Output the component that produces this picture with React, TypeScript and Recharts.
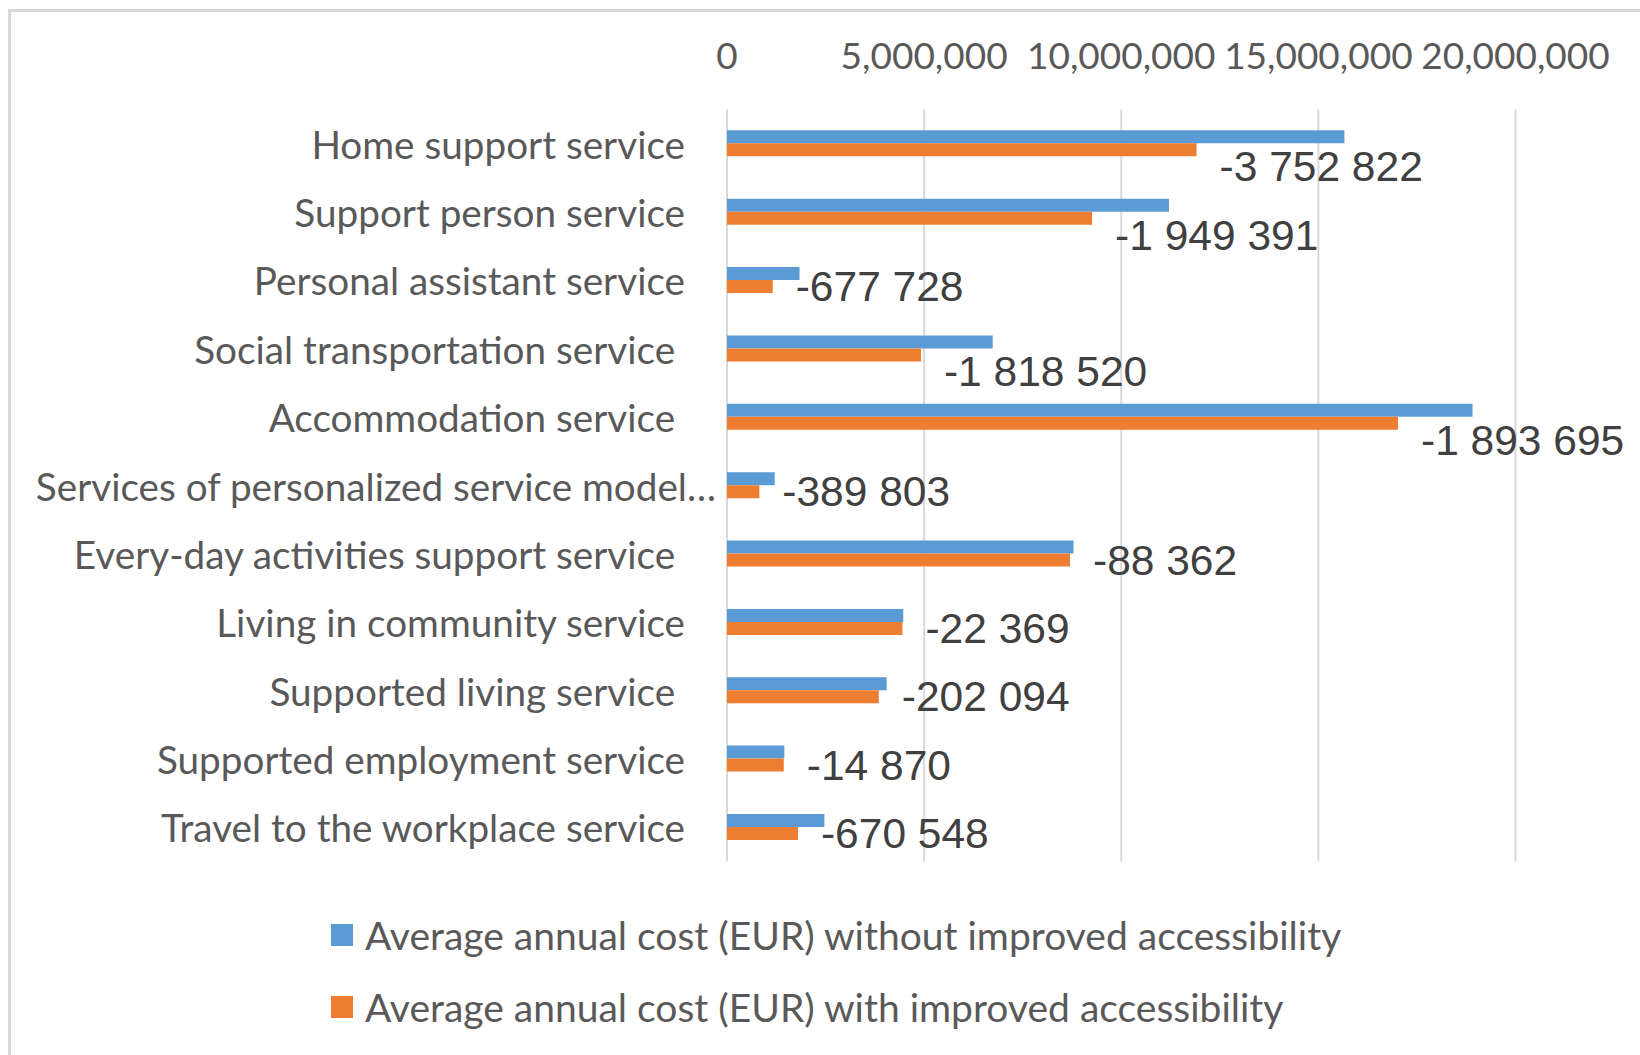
import { Bar, BarChart, CartesianGrid, LabelList, XAxis, YAxis } from 'recharts';

// category labels as they appear (some carry a trailing space in the source sheet)
const services = [
  'Home support service',
  'Support person service',
  'Personal assistant service',
  'Social transportation service ',
  'Accommodation service ',
  'Services of personalized service model…',
  'Every-day activities support service ',
  'Living in community service',
  'Supported living service ',
  'Supported employment service',
  'Travel to the workplace service',
];

const costWithout = [15660000, 11210000, 1840000, 6740000, 18910000, 1210000, 8790000, 4470000, 4050000, 1455000, 2470000];
const costWith = [11910000, 9260000, 1160000, 4920000, 17020000, 820000, 8700000, 4450000, 3850000, 1440000, 1800000];
const difference = [-3752822, -1949391, -677728, -1818520, -1893695, -389803, -88362, -22369, -202094, -14870, -670548];

const axisTicks = [0, 5000000, 10000000, 15000000, 20000000];

const seriesNames = [
  'Average annual cost (EUR) without improved accessibility',
  'Average annual cost (EUR) with improved accessibility',
];

const BLUE = '#5b9bd5';
const ORANGE = '#ed7d31';
const AXIS_TEXT = '#595959';
const LABEL_FONT = 'Lato, Calibri, "Open Sans", sans-serif';

const data = services.map((service, i) => ({
  service,
  without: costWithout[i],
  with: costWith[i],
  difference: difference[i],
}));

function spaced(n: number) {
  const digits = String(Math.abs(n)).replace(/\B(?=(\d{3})+(?!\d))/g, ' ');
  return `${n < 0 ? '-' : ''}${digits}`;
}

function ValueTick(props: any) {
  const { x, y, payload } = props;
  return (
    <text
      x={x}
      y={y - 55}
      textAnchor="middle"
      dominantBaseline="central"
      fill={AXIS_TEXT}
      fontFamily={LABEL_FONT}
      fontSize={37}
    >
      {Number(payload.value).toLocaleString('en-US')}
    </text>
  );
}

function CategoryTick(props: any) {
  const { x, y, payload } = props;
  const label: string = payload.value;
  // Excel lets a truncated label run right up to the axis
  const right = label.endsWith('…') ? x - 11 : x - 42;
  return (
    <text
      x={right}
      y={y}
      textAnchor="end"
      dominantBaseline="central"
      fill={AXIS_TEXT}
      fontFamily={LABEL_FONT}
      fontSize={38.7}
      style={{ whiteSpace: 'pre' }}
    >
      {label}
    </text>
  );
}

function DifferenceLabel(props: any) {
  const box = props.viewBox && props.viewBox.width !== undefined ? props.viewBox : props;
  const { x, y, width, height } = box;
  let i = props.index;
  if (i === undefined) i = difference.indexOf(props.value);
  const end = x + width;
  const blueEnd = x + (width * costWithout[i]) / costWith[i];
  const start = end + 23;
  // push the label below when the longer blue bar would run through it
  const shift = blueEnd - start > 10 ? 17 : 0;
  return (
    <text
      x={start}
      y={y + height / 2 + shift}
      dominantBaseline="central"
      fill="#404040"
      fontFamily='"Liberation Sans", Arial, sans-serif'
      fontSize={42.5}
    >
      {spaced(difference[i])}
    </text>
  );
}

export default function App() {
  return (
    <div
      style={{
        position: 'fixed',
        left: 0,
        top: 0,
        width: 1640,
        height: 1055,
        background: '#fff',
        overflow: 'hidden',
      }}
    >
      <div
        style={{
          position: 'absolute',
          left: 8,
          top: 9,
          width: 2000,
          height: 2000,
          border: '3px solid #d9d9d9',
        }}
      />
      <div style={{ position: 'absolute', left: 0, top: 0 }}>
        <BarChart
          width={1640}
          height={1055}
          data={data}
          layout="vertical"
          margin={{ top: 49.5, right: 124.5, bottom: 193.5, left: 27 }}
          barCategoryGap="30.5%"
          barGap={0}
        >
          <CartesianGrid horizontal={false} stroke="#d9d9d9" strokeWidth={2} />
          <XAxis
            type="number"
            orientation="top"
            domain={[0, 20000000]}
            ticks={axisTicks}
            interval={0}
            height={60}
            axisLine={false}
            tickLine={false}
            tickSize={0}
            tickMargin={0}
            tick={<ValueTick />}
          />
          <YAxis
            type="category"
            dataKey="service"
            width={700}
            interval={0}
            axisLine={false}
            tickLine={false}
            tickSize={0}
            tickMargin={0}
            tick={<CategoryTick />}
          />
          <Bar dataKey="without" fill={BLUE} isAnimationActive={false} />
          <Bar dataKey="with" fill={ORANGE} isAnimationActive={false}>
            <LabelList dataKey="difference" content={<DifferenceLabel />} />
          </Bar>
        </BarChart>
      </div>
      {seriesNames.map((name, i) => (
        <div
          key={name}
          style={{
            position: 'absolute',
            left: 331,
            top: [913, 985][i],
            height: 44,
            display: 'flex',
            alignItems: 'center',
          }}
        >
          <span
            style={{
              display: 'inline-block',
              width: 22,
              height: 22,
              marginRight: 12,
              background: i === 0 ? BLUE : ORANGE,
            }}
          />
          <span
            style={{
              fontFamily: LABEL_FONT,
              fontSize: 39,
              color: AXIS_TEXT,
              whiteSpace: 'nowrap',
              lineHeight: '44px',
            }}
          >
            {name}
          </span>
        </div>
      ))}
    </div>
  );
}
